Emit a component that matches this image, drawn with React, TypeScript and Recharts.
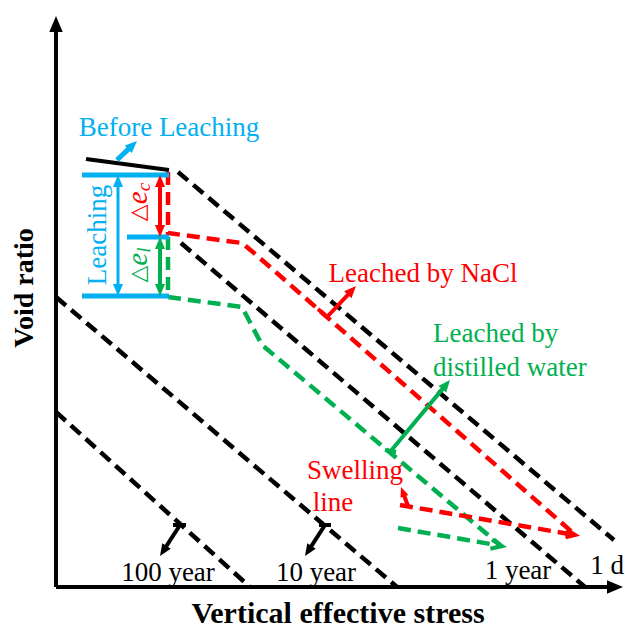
import { ComposedChart, Line, XAxis, YAxis, ReferenceLine, ReferenceDot } from 'recharts';

type P = { x: number; y: number };

// x: vertical effective stress (log scale), y: void ratio, both
const creep1d: P[] = [{ x: 122, y: 415 }, { x: 558, y: 47 }];
const creep1yr: P[] = [{ x: 125, y: 344 }, { x: 529, y: 0 }];
const creep10yr: P[] = [{ x: 0, y: 290 }, { x: 341, y: 0 }];
const creep100yr: P[] = [{ x: 0, y: 175 }, { x: 194, y: 0 }];

const leachedNaCl: P[] = [
  { x: 112, y: 415 }, { x: 112, y: 354 }, { x: 186, y: 344 }, { x: 198, y: 334 }, { x: 516, y: 55 },
];
const leachedWater: P[] = [
  { x: 112, y: 350 }, { x: 112, y: 290 }, { x: 186, y: 280 }, { x: 206, y: 242 }, { x: 444, y: 42 },
];
const swellNaCl: P[] = [{ x: 344, y: 82 }, { x: 519, y: 52 }];
const swellWater: P[] = [{ x: 342, y: 59 }, { x: 446, y: 41 }];
const beforeLeaching: P[] = [{ x: 30, y: 428 }, { x: 113, y: 417 }];

// void ratio levels: before leaching, after NaCl, after distilled water
const levelTop: P[] = [{ x: 26, y: 412 }, { x: 113, y: 412 }];
const levelMid: P[] = [{ x: 71, y: 350 }, { x: 113, y: 350 }];
const levelBottom: P[] = [{ x: 26, y: 291 }, { x: 113, y: 291 }];
const leachingSpan: P[] = [{ x: 62, y: 412 }, { x: 62, y: 291 }];
const deltaEc: P[] = [{ x: 104, y: 412 }, { x: 104, y: 350 }];
const deltaEl: P[] = [{ x: 104, y: 350 }, { x: 104, y: 291 }];

// pointers
const beforePointer: P[] = [{ x: 61, y: 427 }, { x: 81, y: 446 }];
const naclTick: P[] = [{ x: 262, y: 278 }, { x: 271, y: 270 }];
const naclPointer: P[] = [{ x: 271, y: 270 }, { x: 300, y: 301 }];
const waterTick: P[] = [{ x: 329, y: 137 }, { x: 340, y: 135 }];
const waterPointer: P[] = [{ x: 334, y: 135 }, { x: 394, y: 207 }];
const swellPointer: P[] = [{ x: 352, y: 81 }, { x: 345, y: 100 }];
const tick100: P[] = [{ x: 117, y: 62 }, { x: 130, y: 62 }];
const pointer100: P[] = [{ x: 124, y: 62 }, { x: 104, y: 31 }];
const tick10: P[] = [{ x: 263, y: 62 }, { x: 275, y: 62 }];
const pointer10: P[] = [{ x: 269, y: 62 }, { x: 249, y: 31 }];

const yAxisLine: P[] = [{ x: 0, y: 0 }, { x: 0, y: 571 }];
const xAxisLine: P[] = [{ x: 0, y: 0 }, { x: 567, y: 0 }];

const BLUE = '#00B0F0';
const RED = '#FF0000';
const GREEN = '#00B050';
const FONT = '"Liberation Serif", "Times New Roman", serif';

type ArrowOpt = { color: string; both?: boolean; open?: boolean; noShaft?: boolean; head?: number; width?: number; plain?: boolean };

const arrowShape = (o: ArrowOpt) => (p: any) => {
  const { x1, y1, x2, y2 } = p;
  const w = o.width ?? 4;
  if (o.plain) return <line x1={x1} y1={y1} x2={x2} y2={y2} stroke={o.color} strokeWidth={w} />;
  const len = Math.hypot(x2 - x1, y2 - y1) || 1;
  const ux = (x2 - x1) / len;
  const uy = (y2 - y1) / len;
  const h = o.head ?? 13;
  const hw = h * 0.42;
  const wing = (tx: number, ty: number, sx: number, sy: number) => {
    const bx = tx - sx * h;
    const by = ty - sy * h;
    return `${bx - sy * hw},${by + sx * hw} ${tx},${ty} ${bx + sy * hw},${by - sx * hw}`;
  };
  const heads = [wing(x2, y2, ux, uy)];
  if (o.both) heads.push(wing(x1, y1, -ux, -uy));
  const cut = o.open ? 0 : h * 0.8;
  const sx1 = o.both ? x1 + ux * cut : x1;
  const sy1 = o.both ? y1 + uy * cut : y1;
  return (
    <g>
      {!o.noShaft && (
        <line x1={sx1} y1={sy1} x2={x2 - ux * cut} y2={y2 - uy * cut} stroke={o.color} strokeWidth={w} />
      )}
      {heads.map((pts, i) =>
        o.open ? (
          <polyline key={i} points={pts} fill="none" stroke={o.color} strokeWidth={w} />
        ) : (
          <polygon key={i} points={pts} fill={o.color} />
        )
      )}
    </g>
  );
};

const seg = (pts: P[], o: ArrowOpt) => (
  <ReferenceLine segment={[pts[0], pts[1]]} ifOverflow="visible" shape={arrowShape(o)} />
);

const note = (
  x: number,
  y: number,
  content: React.ReactNode,
  color: string,
  opts: { size?: number; bold?: boolean; rotate?: boolean; anchor?: 'start' | 'middle' | 'end' } = {}
) => (
  <ReferenceDot
    x={x}
    y={y}
    r={0}
    ifOverflow="visible"
    shape={(p: any) => (
      <text
        x={p.cx}
        y={p.cy}
        textAnchor={opts.anchor ?? 'middle'}
        dominantBaseline="central"
        fill={color}
        fontFamily={FONT}
        fontSize={opts.size ?? 27}
        fontWeight={opts.bold ? 'bold' : 'normal'}
        transform={opts.rotate ? `rotate(-90 ${p.cx} ${p.cy})` : undefined}
      >
        {content}
      </text>
    )}
  />
);

const dashed = (data: P[], color: string) => (
  <Line
    data={data}
    dataKey="y"
    type="linear"
    stroke={color}
    strokeWidth={4.5}
    strokeDasharray="13 7"
    dot={false}
    activeDot={false}
    isAnimationActive={false}
  />
);

const delta = (sub: string) => (
  <>
    <tspan fontFamily="DejaVu Sans" fontSize={22}>△</tspan>
    <tspan fontStyle="italic" fontSize={29}>e</tspan>
    <tspan fontStyle="italic" fontSize={19} dy={6}>{sub}</tspan>
  </>
);

export default function App() {
  return (
    <div style={{ position: 'absolute', left: 0, top: 0, width: 625, height: 628, background: '#fff' }}>
      <ComposedChart width={625} height={628} margin={{ top: 0, right: 0, bottom: 0, left: 0 }}>
        <XAxis type="number" dataKey="x" domain={[-56, 569]} hide allowDataOverflow />
        <YAxis type="number" dataKey="y" domain={[-41, 587]} hide allowDataOverflow />

        {dashed(creep1d, '#000')}
        {dashed(creep1yr, '#000')}
        {dashed(creep10yr, '#000')}
        {dashed(creep100yr, '#000')}
        {dashed(leachedNaCl, RED)}
        {dashed(leachedWater, GREEN)}
        {dashed(swellNaCl, RED)}
        {dashed(swellWater, GREEN)}

        {seg(swellNaCl, { color: RED, open: true, noShaft: true, head: 9, width: 4 })}
        {seg(swellWater, { color: GREEN, open: true, noShaft: true, head: 11, width: 4 })}

        {seg(yAxisLine, { color: '#000', head: 16, width: 4 })}
        {seg(xAxisLine, { color: '#000', head: 16, width: 4 })}

        {seg(beforeLeaching, { color: '#000', plain: true })}
        {seg(beforePointer, { color: BLUE, head: 12, width: 5 })}
        {seg(levelTop, { color: BLUE, plain: true, width: 5 })}
        {seg(levelMid, { color: BLUE, plain: true, width: 5 })}
        {seg(levelBottom, { color: BLUE, plain: true, width: 5 })}
        {seg(leachingSpan, { color: BLUE, both: true, head: 12, width: 3 })}
        {seg(deltaEc, { color: RED, both: true, head: 12, width: 4 })}
        {seg(deltaEl, { color: GREEN, both: true, head: 12, width: 4 })}

        {seg(naclTick, { color: RED, plain: true })}
        {seg(naclPointer, { color: RED, head: 12 })}
        {seg(waterTick, { color: GREEN, plain: true })}
        {seg(waterPointer, { color: GREEN, head: 12 })}
        {seg(swellPointer, { color: RED, head: 10 })}
        {seg(tick100, { color: '#000', plain: true })}
        {seg(pointer100, { color: '#000', head: 12 })}
        {seg(tick10, { color: '#000', plain: true })}
        {seg(pointer10, { color: '#000', head: 12 })}

        {note(113, 460, 'Before Leaching', BLUE)}
        {note(41, 352, 'Leaching', BLUE, { rotate: true })}
        {note(81, 385, delta('c'), RED, { rotate: true })}
        {note(81, 322, delta('l'), GREEN, { rotate: true })}
        {note(367, 314, 'Leached by NaCl', RED)}
        {note(377, 254, 'Leached by', GREEN, { anchor: 'start' })}
        {note(377, 220, 'distilled water', GREEN, { anchor: 'start' })}
        {note(299, 117, 'Swelling', RED)}
        {note(277, 85, 'line', RED)}
        {note(112, 15, '100 year', '#000')}
        {note(260, 15, '10 year', '#000')}
        {note(462, 17, '1 year', '#000')}
        {note(551, 22, '1 d', '#000')}
        {note(282, -25, 'Vertical effective stress', '#000', { size: 30, bold: true })}
        {note(-33, 299, 'Void ratio', '#000', { size: 28, bold: true, rotate: true })}
      </ComposedChart>
    </div>
  );
}
